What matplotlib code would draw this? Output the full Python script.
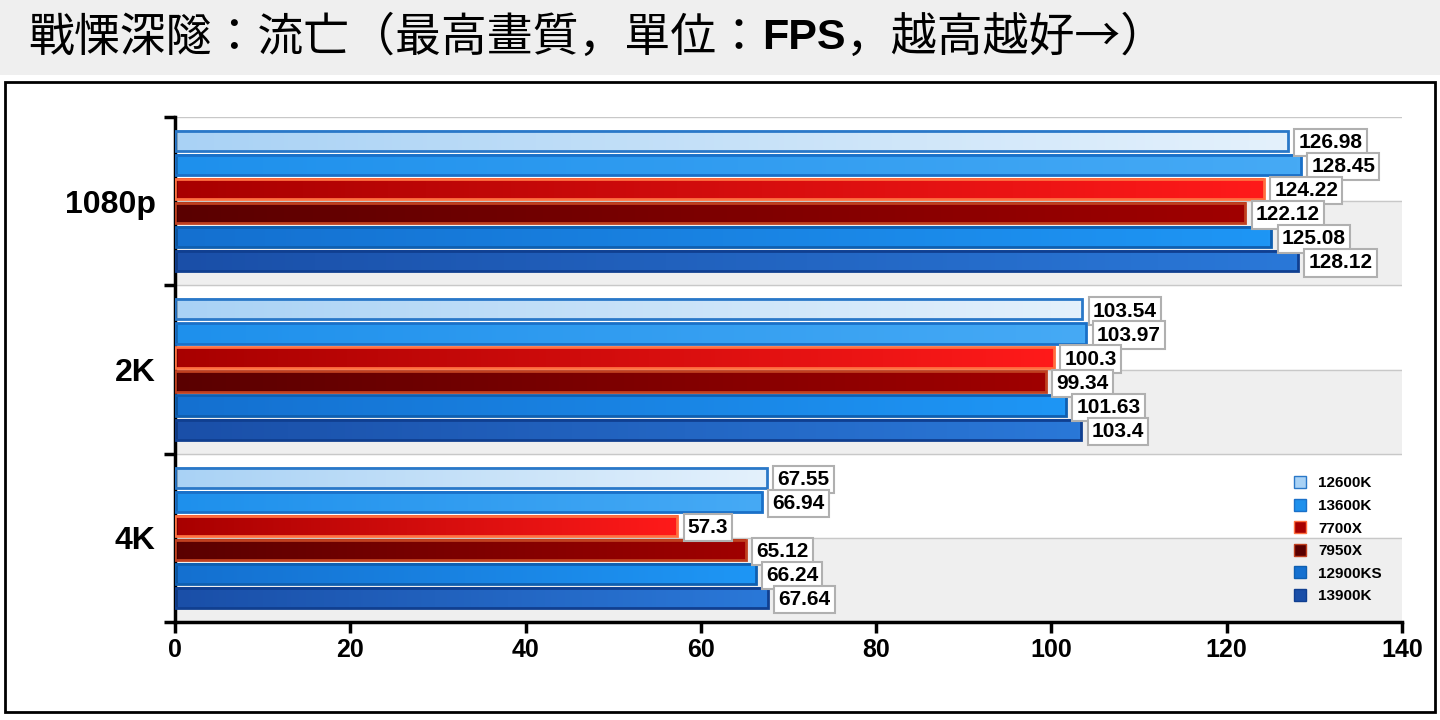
import numpy as np
import matplotlib.pyplot as plt
from matplotlib.patches import Rectangle
import matplotlib.colors as mcolors

categories = ['1080p', '2K', '4K']
cpus = ['12600K', '13600K', '7700X', '7950X', '12900KS', '13900K']
fps = {
    '12600K': [126.98, 103.54, 67.55],
    '13600K': [128.45, 103.97, 66.94],
    '7700X': [124.22, 100.3, 57.3],
    '7950X': [122.12, 99.34, 65.12],
    '12900KS': [125.08, 101.63, 66.24],
    '13900K': [128.12, 103.4, 67.64],
}
xticks = [0, 20, 40, 60, 80, 100, 120, 140]

# (left colour, right colour, edge)
styles = {
    '12600K': ('#a9d2f5', '#e4f1fc', '#2a78c8'),
    '13600K': ('#1e90ec', '#46aaf5', '#1a70c8'),
    '7700X': ('#a80000', '#ff1a1a', '#ff7040'),
    '7950X': ('#5a0000', '#a00000', '#c04020'),
    '12900KS': ('#1470d0', '#1e96f5', '#0f5fb0'),
    '13900K': ('#1a4fa8', '#2a78d8', '#103f90'),
}
cjk = ['Noto Sans CJK TC', 'Noto Sans CJK JP', 'Noto Sans CJK SC', 'DejaVu Sans']

fig = plt.figure(figsize=(14.4, 7.2), dpi=100)
fig.patch.set_facecolor('white')
# title band and chart frame, behind the axes
fig.add_artist(Rectangle((0, 1 - 75 / 720), 1, 75 / 720, transform=fig.transFigure,
                         facecolor='#efefef', edgecolor='none', zorder=-5))
fig.add_artist(Rectangle((5 / 1440, 8 / 720), 1430 / 1440, 630 / 720, transform=fig.transFigure,
                         facecolor='white', edgecolor='black', lw=2, zorder=-4))
ty = 1 - 38 / 720
t1 = fig.text(28 / 1440, ty, '戰慄深隧：流亡（最高畫質，單位：', fontsize=33,
              fontfamily=cjk, va='center')
fig.canvas.draw()
r = fig.canvas.get_renderer()
bb = t1.get_window_extent(r)
t2 = fig.text(bb.x1 / 1440, ty, 'FPS', fontsize=31, fontfamily='Liberation Sans',
              weight='bold', va='center')
bb2 = t2.get_window_extent(r)
fig.text(bb2.x1 / 1440, ty, '，越高越好→）', fontsize=33, fontfamily=cjk, va='center')

ax = fig.add_axes([175 / 1440, 98 / 720, (1402 - 175) / 1440, (603 - 98) / 720])
ax.set_xlim(0, 140)
ax.set_ylim(3, 0)
for k in range(6):
    if k % 2 == 1:
        ax.axhspan(k * 0.5, k * 0.5 + 0.5, color='#efefef', zorder=0)
    ax.axhline(k * 0.5, color='#c8c8c8', lw=1, zorder=0.5)

slot = 1 / 7
h = 0.12
grad = np.linspace(0, 1, 256).reshape(1, -1)
for g in range(len(categories)):
    for j, c in enumerate(cpus):
        v = fps[c][g]
        yc = g + slot * 0.5 + slot * (j + 0.5)
        y0, y1 = yc - h / 2, yc + h / 2
        cmap = mcolors.LinearSegmentedColormap.from_list(c, [styles[c][0], styles[c][1]])
        ax.imshow(grad, extent=(0, v, y1, y0), cmap=cmap, aspect='auto', zorder=2)
        ax.add_patch(Rectangle((0, y0), v, h, facecolor='none', edgecolor=styles[c][2], lw=2, zorder=3))
        ax.text(v + 1.2, yc + 0.01, f'{v:g}', fontsize=15, weight='bold', va='center', ha='left',
                zorder=5, fontfamily='Liberation Sans',
                bbox=dict(boxstyle='square,pad=0.2', facecolor='white', edgecolor='#b0b0b0', lw=1.5))

ax.set_xticks(xticks)
ax.set_xticklabels([str(x) for x in xticks], fontsize=18, weight='bold', fontfamily='Liberation Sans')
ax.set_yticks([0, 1, 2, 3])
ax.set_yticklabels([])
ax.set_yticks([0.5, 1.5, 2.5], minor=True)
ax.set_yticklabels(categories, minor=True, fontsize=23, weight='bold', fontfamily='Liberation Sans')
ax.tick_params(axis='y', which='minor', length=0, pad=14)
ax.tick_params(axis='y', which='major', length=8, width=2.5, direction='out')
ax.tick_params(axis='x', length=8, width=2.5, direction='out')
for s in ['top', 'right']:
    ax.spines[s].set_visible(False)
ax.spines['left'].set_linewidth(2.5)
ax.spines['bottom'].set_linewidth(2.5)

handles = [Rectangle((0, 0), 1, 1, facecolor=styles[c][0], edgecolor=styles[c][2]) for c in cpus]
ax.legend(handles, cpus, loc='lower right', bbox_to_anchor=(0.995, 0.01), frameon=False,
          prop=dict(size=11, weight='bold', family='Liberation Sans'),
          handlelength=0.8, handleheight=0.8, labelspacing=0.55)

fig.savefig('out.png', dpi=100, facecolor=fig.get_facecolor())
